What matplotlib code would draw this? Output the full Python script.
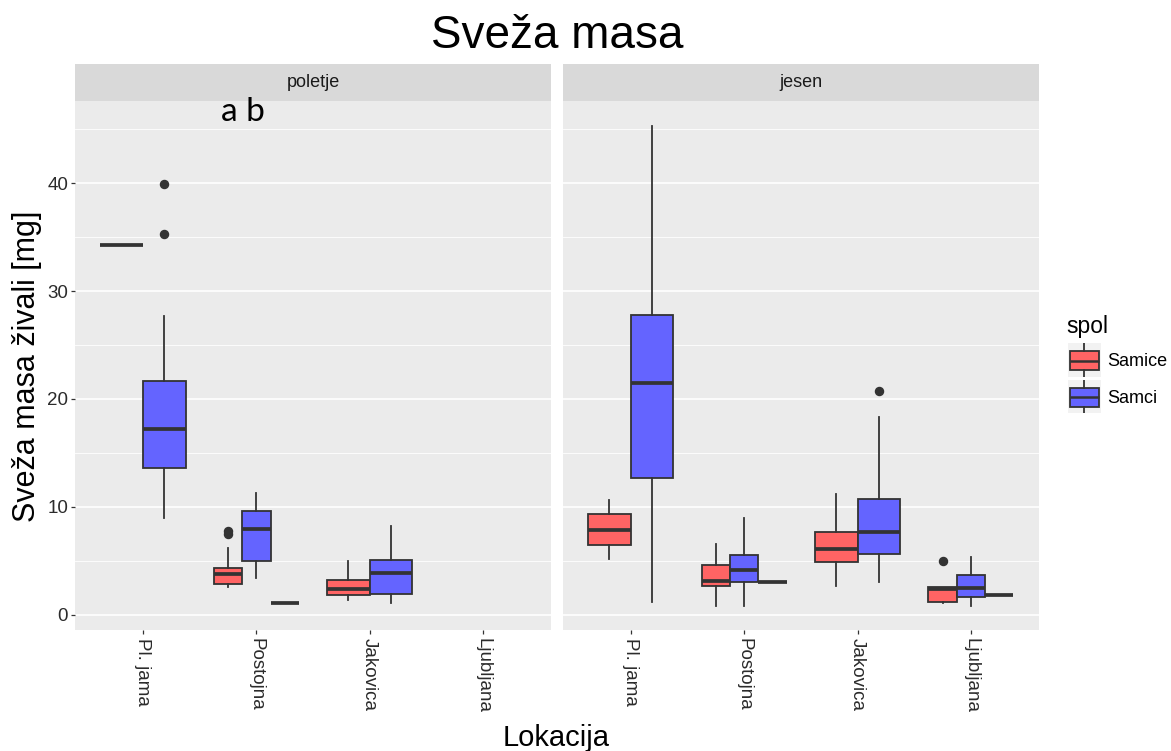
import matplotlib
matplotlib.use('Agg')
import matplotlib.pyplot as plt
from matplotlib.ticker import MultipleLocator

plt.rcParams['font.family'] = ['Liberation Sans', 'DejaVu Sans']

locations = ['Pl. jama', 'Postojna', 'Jakovica', 'Ljubljana']
seasons = ['poletje', 'jesen']
sexes = ['Samice', 'Samci']

# five number summaries: (whisker low, q1, median, q3, whisker high)
poletje_samice = [(34.3, 34.3, 34.3, 34.3, 34.3), (2.56, 2.9, 3.77, 4.38, 6.23),
                  (1.36, 1.88, 2.38, 3.24, 5.03), None]
poletje_samci = [(8.95, 13.6, 17.25, 21.7, 27.7), (3.45, 5.03, 8.0, 9.63, 11.3),
                 (1.11, 1.94, 3.89, 5.09, 8.27), None]
poletje_na = [None, 1.08, None, None]
poletje_samice_out = [[], [7.5, 7.8], [], []]
poletje_samci_out = [[39.9, 35.3], [], [], []]

jesen_samice = [(5.16, 6.48, 7.87, 9.32, 10.65), (0.86, 2.65, 3.18, 4.63, 6.54),
                (2.65, 4.94, 6.11, 7.66, 11.2), (1.08, 1.23, 2.41, 2.56, 2.56)]
jesen_samci = [(1.23, 12.66, 21.5, 27.8, 45.3), (0.86, 3.02, 4.17, 5.52, 8.95),
               (3.09, 5.68, 7.69, 10.77, 18.36), (0.86, 1.64, 2.5, 3.73, 5.34)]
jesen_na = [None, 3.06, None, 1.88]
jesen_samice_out = [[], [], [], [5.0]]
jesen_samci_out = [[], [], [20.7], []]

fill_colors = {'Samice': '#FF6464', 'Samci': '#6464FF', 'NA': '#7F7F7F'}
edge = '#333333'


def make_stats(five, fliers):
    lo, q1, med, q3, hi = five
    return dict(whislo=lo, q1=q1, med=med, q3=q3, whishi=hi, fliers=fliers)


def draw_panel(ax, samice, samci, na, samice_out, samci_out):
    for i in range(len(locations)):
        groups = []
        if samice[i] is not None:
            groups.append(('Samice', make_stats(samice[i], samice_out[i])))
        if samci[i] is not None:
            groups.append(('Samci', make_stats(samci[i], samci_out[i])))
        if na[i] is not None:
            v = na[i]
            groups.append(('NA', make_stats((v, v, v, v, v), [])))
        if not groups:
            continue
        # dodge like ggplot: total width 0.75 split between groups present
        w = 0.75 / len(groups)
        for k, (name, st) in enumerate(groups):
            pos = (i + 1) - 0.375 + w * (k + 0.5)
            ax.bxp([st], positions=[pos], widths=w, patch_artist=True,
                   showcaps=False,
                   boxprops=dict(facecolor=fill_colors[name], edgecolor=edge, linewidth=1.3),
                   medianprops=dict(color=edge, linewidth=2.7, solid_capstyle='butt'),
                   whiskerprops=dict(color=edge, linewidth=1.3),
                   flierprops=dict(marker='o', markerfacecolor=edge, markeredgecolor=edge,
                                   markersize=5.8),
                   manage_ticks=False, zorder=3)


def style_panel(ax, show_y):
    ax.set_facecolor('#EBEBEB')
    for s in ax.spines.values():
        s.set_visible(False)
    ax.set_xlim(0.4, 4.6)
    ax.set_ylim(-1.4, 47.6)
    ax.yaxis.set_major_locator(MultipleLocator(10))
    ax.yaxis.set_minor_locator(MultipleLocator(5))
    ax.grid(which='major', axis='y', color='white', linewidth=1.2, zorder=0)
    ax.grid(which='minor', axis='y', color='white', linewidth=0.6, zorder=0)
    ax.set_axisbelow(True)
    ax.set_xticks(range(1, len(locations) + 1))
    ax.set_xticklabels(locations, rotation=270, fontsize=13.5, color='#2B2B2B')
    ax.tick_params(axis='x', length=3, width=0.9, color='#333333', pad=3)
    ax.tick_params(axis='y', which='minor', length=0)
    if show_y:
        ax.tick_params(axis='y', which='major', length=3, width=0.9, color='#333333',
                       labelsize=13.5, labelcolor='#2B2B2B', pad=2)
    else:
        ax.tick_params(axis='y', which='major', length=0, labelleft=False)


fig = plt.figure(figsize=(11.71, 7.51), dpi=100)

W, H = 1171.0, 751.0
panel_left = [75, 562.7]
panel_right = [551, 1039]
top, bottom = 101, 630
strip_top = 64

panel_data = [
    (poletje_samice, poletje_samci, poletje_na, poletje_samice_out, poletje_samci_out),
    (jesen_samice, jesen_samci, jesen_na, jesen_samice_out, jesen_samci_out),
]

for j, season in enumerate(seasons):
    x0 = panel_left[j] / W
    pw = (panel_right[j] - panel_left[j]) / W
    ax = fig.add_axes([x0, (H - bottom) / H, pw, (bottom - top) / H])
    style_panel(ax, j == 0)
    draw_panel(ax, *panel_data[j])

    strip = fig.add_axes([x0, (H - top) / H, pw, (top - strip_top) / H])
    strip.set_facecolor('#D9D9D9')
    strip.set_xticks([])
    strip.set_yticks([])
    for s in strip.spines.values():
        s.set_visible(False)
    strip.text(0.5, 0.5, season, ha='center', va='center', fontsize=13,
               color='#1A1A1A', transform=strip.transAxes)

fig.text(557.5 / W, (H - 48) / H, 'Sveža masa', ha='center', va='baseline', fontsize=33)
fig.text(556 / W, 5 / H, 'Lokacija', ha='center', va='baseline', fontsize=21)
fig.text(27 / W, (H - 366) / H, 'Sveža masa živali [mg]', ha='center', va='center',
         rotation=90, fontsize=22)

# significance letters
fig.text(242.5 / W, (H - 121) / H, 'a b', ha='center', va='baseline', fontsize=24,
         family=['Lato', 'DejaVu Sans'])

# legend
fig.text(1066.7 / W, (H - 333.3) / H, 'spol', ha='left', va='baseline', fontsize=16.5)
key_tops = [343.3, 380]
label_y = [361.7, 398.3]
for k, name in enumerate(sexes):
    kax = fig.add_axes([1067.7 / W, (H - key_tops[k] - 33.4) / H, 33.3 / W, 33.4 / H])
    kax.set_facecolor('#F2F2F2')
    kax.set_xlim(0, 1)
    kax.set_ylim(0, 1)
    kax.set_xticks([])
    kax.set_yticks([])
    for s in kax.spines.values():
        s.set_visible(False)
    kax.bxp([make_stats((0.0, 0.2, 0.485, 0.77, 1.0), [])], positions=[0.5], widths=0.85,
            patch_artist=True, showcaps=False,
            boxprops=dict(facecolor=fill_colors[name], edgecolor=edge, linewidth=1.3),
            medianprops=dict(color=edge, linewidth=1.8),
            whiskerprops=dict(color=edge, linewidth=1.3),
            manage_ticks=False)
    fig.text(1107.3 / W, (H - label_y[k]) / H, name, ha='left', va='center', fontsize=13)

fig.savefig('out.png', dpi=100)
